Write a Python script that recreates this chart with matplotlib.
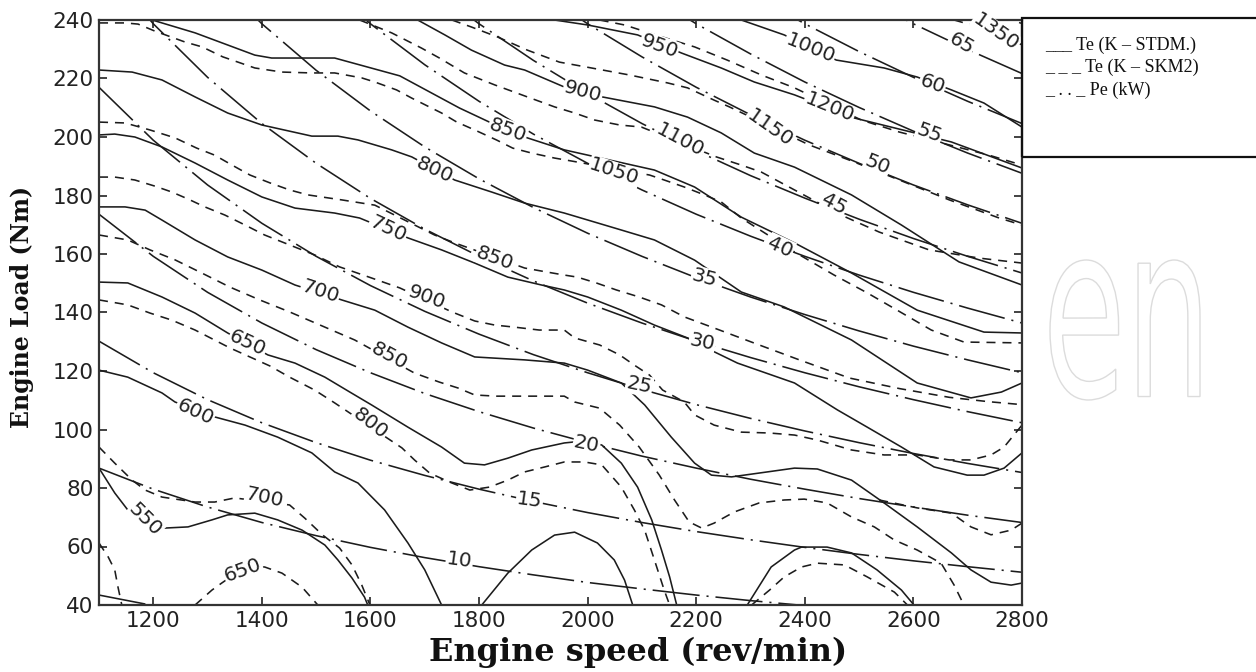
import matplotlib
matplotlib.use("Agg")
import matplotlib.pyplot as plt
from matplotlib.patches import Rectangle, PathPatch
from matplotlib.textpath import TextPath
from matplotlib.font_manager import FontProperties
from matplotlib.transforms import Affine2D

plt.rcParams['lines.scale_dashes'] = False

# ---------------- data (speed rev/min, load Nm) ----------------
# Te (K - STDM), solid contours
stdm_1000 = [(2283,240),(2362,234.9),(2458,226.3),(2546,223.6),(2607,220.5),(2670,216.1),(2730,211.6),(2800,203.4)]
stdm_950 = [(1939,240),(2000,238.3),(2092,234.9),(2173,228.7),(2246,223.6),(2307,218.8),(2381,214.4),(2491,206.5),(2670,198.3),(2800,189.4)]
stdm_900 = [(1687,240),(1737,234.9),(1786,229.7),(1847,224.6),(1884,222.9),(1957,217.1),(2027,213.7),(2123,210.3),(2184,206.8),(2246,201.4),(2307,194.5),(2381,189.7),(2486,180.2),(2578,169.9),(2684,157.3),(2800,149.4)]
stdm_850 = [(1198,240),(1277,235.6),(1387,228),(1418,227),(1534,227),(1654,220.9),(1764,209.9),(1819,205.1),(1889,199.7),(1957,195.6),(2123,188.7),(2197,182.9),(2283,172.6),(2381,163.8),(2486,153.5),(2607,140.8),(2730,133.3),(2800,133)]
stdm_800 = [(1100,222.9),(1161,222.2),(1216,219.5),(1277,213.7),(1337,208.2),(1400,204.1),(1492,200.3),(1540,200.3),(1577,199),(1639,195.6),(1676,193.2),(1755,185.3),(1823,181.2),(1884,177.4),(1957,174),(2062,168.2),(2123,164.8),(2197,157.9),(2283,147),(2362,141.9),(2486,130.6),(2607,115.9),(2706,110.8),(2762,112.8),(2800,115.9)]
stdm_750 = [(1100,200.7),(1129,201),(1166,200),(1216,196.6),(1277,191.1),(1337,185.3),(1400,179.5),(1461,175.7),(1534,174),(1580,172.3),(1669,165.5),(1731,161.4),(1792,156.9),(1853,152.1),(1915,149.4),(1957,147.7),(2000,145.3),(2062,140.8),(2123,135.7),(2184,131.3),(2215,128.2),(2276,122.7),(2381,115.9),(2460,106.7),(2515,100.8),(2578,94),(2638,87.2),(2699,84.4),(2730,84.4),(2767,86.8),(2800,92)]
stdm_700 = [(1100,176.1),(1148,176.1),(1185,175),(1216,171.6),(1277,164.8),(1337,159),(1400,154.5),(1461,149.4),(1547,144.3),(1608,140.8),(1669,135),(1731,129.6),(1792,124.8),(1884,123.8),(1957,122.7),(2000,120.3),(2062,115.9),(2105,108.4),(2154,97.4),(2197,88.5),(2228,84.4),(2265,83.8),(2331,85.5),(2381,86.8),(2423,86.5),(2486,82.7),(2546,74.9),(2607,66.7),(2670,57.8),(2706,52),(2743,47.8),(2780,46.8),(2800,47.5)]
stdm_650 = [(1100,150.4),(1153,150.1),(1216,145.3),(1277,139.8),(1337,133),(1411,125.5),(1461,122.7),(1516,117.9),(1562,112.8),(1602,108.4),(1669,100.8),(1731,94),(1773,88.5),(1810,87.9),(1853,90.2),(1897,93),(1957,95.4),(1994,96.1),(2026,94.7),(2062,88.5),(2092,80.3),(2118,69.1),(2136,58.8),(2151,49.6),(2164,40)]
stdm_600 = [(1100,120.3),(1153,117.9),(1216,112.5),(1240,109.4),(1313,104.3),(1369,101.5),(1429,97.4),(1492,92),(1534,85.5),(1577,81.7),(1626,72.5),(1669,61.2),(1700,52),(1731,40)]
stdm_550 = [(1100,86.8),(1129,78.3),(1153,72.5),(1221,66.3),(1264,66.7),(1308,69.1),(1337,70.8),(1387,71.4),(1429,69.1),(1474,65.6),(1516,60.5),(1540,55.4),(1566,49.2),(1589,42.7),(1595,40)]
stdm_arch_a = [(1805,40),(1853,50.9),(1897,58.8),(1939,63.9),(1976,64.9),(2018,61.2),(2049,55.4),(2068,48.5),(2083,40)]
stdm_arch_b = [(2294,40),(2338,53),(2381,58.8),(2394,59.8),(2441,59.8),(2486,57.8),(2533,52),(2578,45.1),(2601,40)]

# Te (K - SKM2), dashed contours
skm_1350 = [(2675,240),(2752,235.9),(2800,231.5)]
skm_1200 = [(2022,240),(2068,238.3),(2132,234.5),(2197,230.8),(2257,226.3),(2320,221.2),(2381,216.8),(2504,205.8),(2574,201.7),(2666,197.3),(2739,193.8),(2800,190.4)]
skm_1150 = [(1750,240),(1786,237.6),(1834,234.2),(1889,229.7),(1948,225.6),(2007,223.6),(2077,221.2),(2147,218.5),(2184,216.8),(2233,212.6),(2261,210.3),(2408,197.3),(2482,192.1),(2574,185.3),(2666,178.5),(2758,172.3),(2800,169.9)]
skm_1100 = [(1580,240),(1639,235.6),(1694,230.4),(1727,227),(1773,221.9),(1829,217.8),(1889,213.7),(1939,210.3),(1976,208.2),(2013,205.8),(2059,204.1),(2099,203.4),(2237,193.2),(2283,190.4),(2320,188),(2381,181.9),(2467,173.3),(2537,167.5),(2629,161.4),(2721,158.6),(2800,156.9)]
skm_1050 = [(1100,239),(1148,239),(1172,238.6),(1203,236.2),(1258,232.5),(1290,230.8),(1328,227.4),(1356,225.6),(1387,223.6),(1437,222.2),(1492,221.9),(1534,221.9),(1584,220.2),(1608,218.8),(1648,216.1),(1676,213.3),(1705,210.6),(1731,208.2),(1759,205.1),(1792,202.4),(1832,199),(1862,196.2),(1897,194.5),(1939,192.8),(1970,191.8),(2114,187.0),(2141,185.3),(2178,182.9),(2215,180.2),(2246,177.8),(2283,172.3),(2381,160.7),(2454,152.8),(2515,146.7),(2570,140.8),(2633,134),(2693,129.9),(2800,129.6)]
skm_950 = [(1100,205.1),(1148,204.8),(1194,202.4),(1240,199.7),(1280,196.2),(1313,193.8),(1345,190.4),(1378,187.0),(1415,184.3),(1451,181.9),(1485,180.2),(1525,179.1),(1547,178.5),(1608,176.7),(1663,171.6),(1718,166.5),(1755,163.8),(1884,155.2),(1926,153.8),(1957,152.8),(1981,152.1),(2016,150.1),(2053,147.7),(2095,145.3),(2136,142.6),(2178,138.5),(2243,134.0),(2316,128.9),(2390,123.8),(2482,117.6),(2574,114.0),(2666,111.0),(2739,109.5),(2800,108.5)]
skm_900 = [(1100,186.3),(1129,186.3),(1166,185.3),(1203,183.2),(1234,181.2),(1264,178.8),(1295,176.1),(1332,173.3),(1369,169.9),(1405,166.5),(1451,163.1),(1497,159.7),(1543,155.6),(1571,153.8),(1602,151.8),(1654,148.4),(1750,140.2),(1792,137.1),(1829,135.7),(1865,135.0),(1911,134.0),(1957,134.0),(1976,131.3),(2022,128.9),(2059,125.5),(2086,122.0),(2114,118.6),(2138,113.5),(2178,109.4),(2197,105.0),(2233,101.5),(2283,99.1),(2335,98.8),(2381,98.1),(2423,96.4),(2486,93.0),(2546,91.3),(2607,91.3),(2666,89.6),(2706,89.6),(2743,91.3),(2767,94.0),(2785,98.1),(2800,101.5)]
skm_850 = [(1100,166.5),(1153,164.8),(1194,161.4),(1240,158),(1286,153.8),(1341,148.7),(1396,144.3),(1451,140.2),(1516,135),(1571,130.6),(1681,119.3),(1727,116.2),(1761,114.2),(1792,111.8),(1832,111.4),(1884,111.4),(1957,111.4),(1976,109.4),(2022,107.3),(2059,101.5),(2095,94),(2132,84.4),(2160,75.9),(2187,68.4),(2210,66.3),(2233,68),(2270,71.8),(2316,74.9),(2362,75.9),(2399,76.2),(2441,74.9),(2486,70.1),(2528,66.7),(2565,62.2),(2607,58.8),(2651,54.3),(2675,46.8),(2693,40)]
skm_800 = [(1100,144.3),(1153,142.6),(1194,139.8),(1234,137.4),(1277,134),(1341,127.9),(1415,121.7),(1451,117.9),(1497,113.5),(1534,109.1),(1658,93.7),(1681,89.6),(1709,85.1),(1746,82),(1783,79.3),(1819,80.3),(1853,82.7),(1884,85.5),(1921,87.2),(1957,88.9),(1994,88.9),(2026,87.9),(2062,80.3),(2086,72.5),(2105,65.6),(2123,55.4),(2141,45.1),(2151,40)]
skm_700 = [(1100,94),(1129,88.5),(1161,82.7),(1185,79.3),(1216,76.9),(1277,75.2),(1313,75.2),(1350,76.6),(1451,74.2),(1479,69.7),(1512,63.9),(1543,59.5),(1566,53.7),(1584,46.8),(1599,40)]
skm_650 = [(1277,40),(1308,45.1),(1326,47.5),(1365,52.5),(1405,53),(1437,50.9),(1474,46.1),(1503,40)]
skm_corner = [(1100,61.2),(1117,56.4),(1129,52),(1135,46.1),(1142,40)]
skm_arch_b = [(2302,40),(2335,45.1),(2362,49.6),(2394,53),(2423,54.3),(2473,53.7),(2515,49.6),(2565,44.4),(2589,40)]
skm_right = [(2537,75.9),(2607,73.2),(2670,71.4),(2706,66.7),(2743,64),(2780,65.6),(2800,68)]

# Pe (kW), dash-dot contours: (speed list, load list)
pe_5 = ([1100, 1200], [43.4, 39.8])
pe_10 = ([1100,1200,1300,1400,1500,1600,1700,1800,1900,2000,2100,2200,2300,2400],
         [86.8,79.6,73.5,68.2,63.7,59.7,56.2,53.1,50.3,47.7,45.5,43.4,41.5,39.8])
pe_15 = ([1100,1200,1300,1400,1500,1600,1700,1800,1900,2000,2100,2200,2300,2400,2500,2600,2700,2800],
         [130.2,119.4,110.2,102.3,95.5,89.5,84.3,79.6,75.4,71.6,68.2,65.1,62.3,59.7,57.3,55.1,53.1,51.2])
pe_20 = ([1100,1200,1300,1400,1500,1600,1700,1800,1900,2000,2100,2200,2300,2400,2500,2600,2700,2800],
         [173.6,159.2,146.9,136.4,127.3,119.4,112.3,106.1,100.5,95.5,90.9,86.8,83.0,79.6,76.4,73.5,70.7,68.2])
pe_25 = ([1100,1200,1300,1400,1500,1600,1700,1800,1900,2000,2100,2200,2300,2400,2500,2600,2700,2800],
         [217.0,198.9,183.6,170.5,159.2,149.2,140.4,132.6,125.6,119.4,113.7,108.5,103.8,99.5,95.5,91.8,88.4,85.3])
pe_30 = ([1100,1200,1300,1400,1500,1600,1700,1800,1900,2000,2100,2200,2300,2400,2500,2600,2700,2800],
         [260.4,238.7,220.4,204.6,191.0,179.0,168.5,159.2,150.8,143.2,136.4,130.2,124.6,119.4,114.6,110.2,106.1,102.3])
pe_35 = ([1300,1400,1500,1600,1700,1800,1900,2000,2100,2200,2300,2400,2500,2600,2700,2800],
         [257.1,238.7,222.8,208.9,196.6,185.7,175.9,167.1,159.2,151.9,145.3,139.3,133.7,128.5,123.8,119.4])
pe_40 = ([1500,1600,1700,1800,1900,2000,2100,2200,2300,2400,2500,2600,2700,2800],
         [254.6,238.7,224.7,212.2,201.0,191.0,181.9,173.6,166.1,159.2,152.8,146.9,141.5,136.4])
pe_45 = ([1700,1800,1900,2000,2100,2200,2300,2400,2500,2600,2700,2800],
         [252.8,238.7,226.2,214.9,204.6,195.3,186.8,179.1,171.9,165.3,159.2,153.5])
pe_50 = ([1900,2000,2100,2200,2300,2400,2500,2600,2700,2800],
         [251.3,238.7,227.4,217.0,207.6,198.9,191.0,183.6,176.8,170.5])
pe_55 = ([2100,2200,2300,2400,2500,2600,2700,2800],
         [250.1,238.7,228.4,218.8,210.1,202.0,194.5,187.6])
pe_60 = ([2300,2400,2500,2600,2700,2800], [249.1,238.7,229.2,220.4,212.2,204.6])
pe_65 = ([2500,2600,2700,2800], [248.3,238.7,229.9,221.7])
pe_70 = ([2700,2800], [247.6,238.7])

# contour labels: (text, speed, load, angle)
te_labels = [("950",2132,231.1,-20),("1000",2410,230.4,-22),("1350",2752,235.9,-35),
             ("900",1991,215.4,-15),("1200",2445,209.9,-22),("850",1853,202.4,-20),
             ("1100",2171,199.0,-28),("1150",2335,203.1,-35),("800",1718,188.7,-25),
             ("1050",2049,188.0,-18),("750",1632,168.5,-25),("850",1829,158.6,-20),
             ("700",1507,147.0,-18),("900",1704,145.3,-20),("650",1374,129.6,-25),
             ("850",1635,125.1,-28),("600",1277,106.0,-25),("800",1599,102.2,-38),
             ("700",1405,76.6,-12),("550",1185,69.1,-45),("650",1365,52.0,20)]
pe_labels = [("65",2688,231.8,-30),("60",2635,218.1,-20),("55",2629,201.4,-20),
             ("50",2533,190.4,-22),("45",2454,177.1,-28),("40",2355,162.4,-25),
             ("35",2215,151.8,-15),("30",2211,129.9,-12),("25",2095,115.2,-12),
             ("20",1998,95.0,-12),("15",1893,75.9,-8),("10",1764,55.4,-8)]

x_ticks = [1200, 1400, 1600, 1800, 2000, 2200, 2400, 2600, 2800]
y_ticks = [40, 60, 80, 100, 120, 140, 160, 180, 200, 220, 240]
legend_entries = ["___ Te (K \u2013 STDM.)", "_ _ _ Te (K \u2013 SKM2)", "_ . . _ Pe (kW)"]

# ---------------- drawing ----------------
W, H = 1256, 672
fig = plt.figure(figsize=(W/100, H/100), dpi=100)
ax = fig.add_axes([99/W, 67/H, 923/W, 585/H])

LC = '#1c1c1c'
LW = 1.15
stdm_lines = [stdm_1000, stdm_950, stdm_900, stdm_850, stdm_800, stdm_750, stdm_700,
              stdm_650, stdm_600, stdm_550, stdm_arch_a, stdm_arch_b]
skm_lines = [skm_1350, skm_1200, skm_1150, skm_1100, skm_1050, skm_950, skm_900, skm_850,
             skm_800, skm_700, skm_650, skm_corner, skm_arch_b, skm_right]
pe_lines = [pe_5, pe_10, pe_15, pe_20, pe_25, pe_30, pe_35, pe_40, pe_45, pe_50,
            pe_55, pe_60, pe_65, pe_70]

for ln in stdm_lines:
    xs, ys = zip(*ln)
    ax.plot(xs, ys, color=LC, lw=LW, solid_joinstyle='round')
for ln in skm_lines:
    xs, ys = zip(*ln)
    l, = ax.plot(xs, ys, color=LC, lw=LW)
    l.set_dashes((6.5, 5))
for xs, ys in pe_lines:
    l, = ax.plot(xs, ys, color=LC, lw=LW)
    l.set_dashes((34, 5, 1.5, 5))

for txt, sx, ly, ang in te_labels + pe_labels:
    ax.text(sx, ly, txt, fontsize=14.5, rotation=ang, rotation_mode='anchor',
            ha='center', va='center', color='#222222', zorder=5,
            bbox=dict(facecolor='white', edgecolor='none', pad=0.6))

ax.set_xlim(1100, 2800)
ax.set_ylim(40, 240)
ax.set_xticks(x_ticks)
ax.set_yticks(y_ticks)
ax.tick_params(direction='in', length=6, width=1.2, top=True, right=True,
               labelsize=15.5, colors='#222222', pad=4)
for s in ax.spines.values():
    s.set_linewidth(1.6)
    s.set_color('#333333')

fig.text(638/W, 1 - 652/H, "Engine speed (rev/min)", fontsize=23, fontweight='bold',
         family='DejaVu Serif', ha='center', va='center', color='#111111')
fig.text(22/W, 1 - 307/H, "Engine Load (Nm)", fontsize=17, fontweight='bold',
         family='DejaVu Serif', ha='center', va='center', rotation=90, color='#111111')

# faint watermark letters at the right
tp = TextPath((0, 0), "en", size=1, prop=FontProperties(family='DejaVu Sans'))
ext = tp.get_extents()
wm_tf = (Affine2D().translate(-ext.x0, -ext.y0)
         .scale(150 / ext.width, 140 / ext.height).translate(1050, H - 400))
fig.patches.append(PathPatch(tp, transform=wm_tf, facecolor='none',
                             edgecolor='#dcdcdc', lw=1.0))

# legend box
fig.patches.append(Rectangle((1022/W, 1 - 157/H), 0.3, 139/H, transform=fig.transFigure,
                             fill=False, edgecolor='#111111', lw=1.6, clip_on=False))
for i, t in enumerate(legend_entries):
    fig.text(1045/W, 1 - (45 + 22.5*i)/H, t, fontsize=13, family='Liberation Serif',
             va='center', ha='left', color='#111111')

fig.savefig("out.png", dpi=100)
